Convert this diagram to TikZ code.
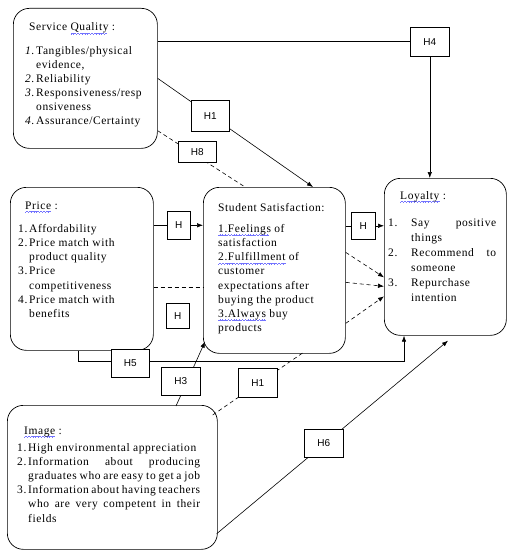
\documentclass[tikz,border=0pt]{standalone}
\usepackage{fontspec}
\setmainfont[LetterSpace=5]{Liberation Serif}
\newfontfamily\hfont{Liberation Sans}
\usetikzlibrary{arrows.meta,calc,backgrounds}
\newsavebox\wvbox
\newcommand\wvunit{\hbox{\rule[-3.4pt]{0.7pt}{0.5pt}\rule[-2.9pt]{0.7pt}{0.5pt}\rule[-2.4pt]{0.7pt}{0.5pt}\rule[-2.9pt]{0.7pt}{0.5pt}}}
\newcommand\wv[1]{\sbox\wvbox{#1}\rlap{\color{blue!55}\hbox to \wd\wvbox{\leaders\wvunit\hfill}}\usebox\wvbox}
\newcommand\nm[2]{\makebox[#1][l]{#2}}
\begin{document}
\begin{tikzpicture}[x=1pt,y=-1pt,
 box/.style={draw, line width=0.7pt, rounded corners=16pt, inner sep=0, anchor=north west},
 hb/.style={draw, fill=white, line width=0.6pt, font=\hfont\fontsize{10}{12}\selectfont, inner sep=0, anchor=north west},
 txt/.style={inner sep=0, anchor=north west},
 ttl/.style={inner sep=0, anchor=base west, font=\fontsize{11.5}{14}\selectfont},
 ln/.style={line width=0.6pt},
 arr/.style={ln, -{Latex[length=6pt,width=4.5pt]}},
 dsh/.style={ln, dash pattern=on 4pt off 3pt},
 dsharr/.style={dsh, -{Latex[length=6pt,width=4.5pt]}},
]
\useasboundingbox (0,0) rectangle (508,551);

% main boxes
\node[box, minimum width=144pt, minimum height=140pt] (sq) at (13,8) {};
\node[box, minimum width=143pt, minimum height=163pt] (pr) at (10,187) {};
\node[box, minimum width=142pt, minimum height=166pt] (ss) at (203,187) {};
\node[box, minimum width=122pt, minimum height=157pt] (loy) at (384,178) {};
\node[box, minimum width=210pt, minimum height=144pt] (im) at (7,405) {};

% hypothesis boxes
\node[hb, minimum width=39pt, minimum height=29pt] (h4) at (410,27) {H4};
\node[hb, minimum width=38pt, minimum height=31pt] (h1a) at (191,100) {H1};
\node[hb, minimum width=38pt, minimum height=21pt] (h8) at (178,141) {H8};
\node[hb, minimum width=23pt, minimum height=28pt] (hp) at (167,211) {H};
\node[hb, minimum width=23pt, minimum height=25pt] (hpl) at (166,303) {H};
\node[hb, minimum width=24pt, minimum height=27pt] (hl) at (351,212) {H};
\node[hb, minimum width=38pt, minimum height=28pt] (h5) at (111,349) {H5};
\node[hb, minimum width=39pt, minimum height=28pt] (h3) at (161,367) {H3};
\node[hb, minimum width=39pt, minimum height=29pt] (h1b) at (238,368) {H1};
\node[hb, minimum width=39pt, minimum height=28pt] (h6) at (304,429) {H6};

% connectors
\begin{scope}[on background layer]
\draw[ln] (sq.east |- h4.west) -- (h4.west);
\draw[arr] (h4.south) -- (h4.south |- loy.north);
\draw[arr] (sq.east) -- ($(ss.north west)+(110,0)$);
\draw[dsh] ($(sq.south east)+(0,-18)$) -- ($(ss.north west)+(42,0)$);
\draw[arr] (pr.east |- hp.west) -- (ss.west |- hp.west);
\coordinate (d1) at ($(pr.east)+(0,18.5)$);
\draw[dsh] (d1) -- (d1 -| ss.west);
\draw[arr] (ss.east |- hl.west) -- (loy.west |- hl.west);
\draw[dsharr] ($(ss.east)+(0,-18)$) -- ($(loy.west)+(0,20.5)$);
\draw[dsharr] ($(ss.east)+(0,12)$) -- ($(loy.west)+(0,29.5)$);
\draw[dsharr] ($(ss.east)+(0,53)$) -- ($(loy.west)+(0,39.5)$);
\draw[arr] ($(pr.south west)+(68,0)$) -- ++(0,11) -| ($(loy.south west)+(20,0)$);
\draw[arr] ($(im.north west)+(169,1)$) -- ($(ss.south west)+(2,-12)$);
\draw[dsh] ($(im.north east)+(-5,10)$) -- ($(ss.south west)+(100,-1)$);
\draw[arr] ($(im.south east)+(-1,-16)$) -- ($(loy.south west)+(64,5)$);
\end{scope}

% texts
\node[ttl] (sqt) at (29,31) {Service \wv{Quality} :};
\node[txt] (sqi) at (25,44.2) {\fontsize{11.5}{14}\selectfont
\begin{tabular}{@{}l@{}}
\nm{11pt}{\textit{1.}}Tangibles/physical\\
\nm{11pt}{}evidence,\\
\nm{11pt}{\textit{2.}}Reliability\\
\nm{11pt}{\textit{3.}}Responsiveness/resp\\
\nm{11pt}{}onsiveness\\
\nm{11pt}{\textit{4.}}Assurance/Certainty
\end{tabular}};

\node[ttl] (prt) at (25,209) {\wv{Price} :};
\node[txt] (pri) at (18,222.1) {\fontsize{11.5}{14.2}\selectfont
\begin{tabular}{@{}l@{}}
\nm{11pt}{1.}Affordability\\
\nm{11pt}{2.}Price match with\\
\nm{11pt}{}product quality\\
\nm{11pt}{3.}Price\\
\nm{11pt}{}competitiveness\\
\nm{11pt}{4.}Price match with\\
\nm{11pt}{}benefits
\end{tabular}};

\node[ttl] (sst) at (218,211) {Student Satisfaction:};
\node[txt] (ssi) at (218,222.1) {\fontsize{11.5}{14.2}\selectfont
\begin{tabular}{@{}l@{}}
\wv{1.Feelings} of\\
satisfaction\\
\wv{2.Fulfillment} of\\
customer\\
expectations after\\
buying the product\\
\wv{3.Always} buy\\
products
\end{tabular}};

\node[ttl] (lyt) at (400,199) {\wv{Loyalty} :};
\node[txt] (lyi) at (388,215.5) {\fontsize{11.5}{15}\selectfont
\begin{tabular}{@{}l@{}}
\nm{23pt}{1.}\makebox[85pt][s]{Say\hfill positive}\\
\nm{23pt}{}things\\
\nm{23pt}{2.}\makebox[85pt][s]{Recommend\hfill to}\\
\nm{23pt}{}someone\\
\nm{23pt}{3.}Repurchase\\
\nm{23pt}{}intention
\end{tabular}};

\node[ttl] (imt) at (24,434) {\wv{Image} :};
\node[txt] (imi) at (17,441) {\fontsize{11.5}{14.2}\selectfont
\begin{tabular}{@{}l@{}}
\nm{11pt}{1.}High environmental appreciation\\
\nm{11pt}{2.}\makebox[172pt][s]{Information about producing}\\
\nm{11pt}{}\makebox[172pt][s]{graduates who are easy to get a job}\\
\nm{11pt}{3.}\makebox[172pt][s]{Information about having teachers}\\
\nm{11pt}{}\makebox[172pt][s]{who are very competent in their}\\
\nm{11pt}{}fields
\end{tabular}};
\end{tikzpicture}
\end{document}
